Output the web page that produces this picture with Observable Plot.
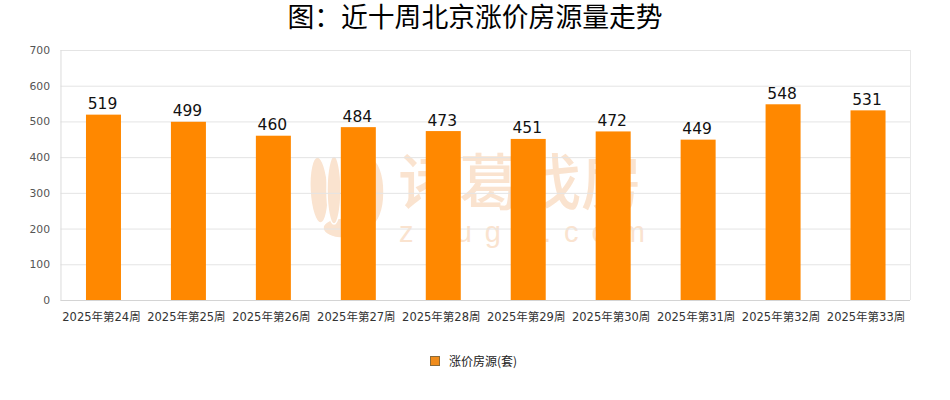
<!DOCTYPE html>
<html><head><meta charset="utf-8">
<script src="https://cdn.jsdelivr.net/npm/d3@7"></script>
<script src="https://cdn.jsdelivr.net/npm/@observablehq/plot@0.6"></script>
<style>
html,body{margin:0;padding:0;background:#fff}
#wrap{position:relative;width:950px;height:400px;overflow:hidden;font-family:"DejaVu Sans","Noto Sans CJK SC",sans-serif}
#title{position:relative;z-index:2;height:42px;line-height:35px;text-align:center;font-size:26.8px;color:#000;font-family:"DejaVu Sans","Noto Sans CJK SC",sans-serif;white-space:nowrap}
#mark{position:absolute;left:0;top:0;width:950px;height:400px;z-index:0;color:#fae3cf}
#mark .cn{position:absolute;left:398px;top:142px;font:500 61px/84px "Liberation Sans","Noto Sans CJK SC",sans-serif;white-space:nowrap}
#mark .en{position:absolute;left:399px;top:213px;font:400 29px/38px "Liberation Sans",sans-serif;letter-spacing:13px;white-space:nowrap}
#mark svg{position:absolute;left:305px;top:150px}
#chart{position:relative;z-index:1}
#chart svg{background:transparent}
#legend{position:absolute;z-index:2;left:430px;top:354px;display:flex;align-items:center;font-size:12px;line-height:14px;color:#222;font-family:"Noto Sans CJK SC",sans-serif}
#legend i{display:block;width:8px;height:8px;background:#f08c1c;border:.5px solid #8a6a3a;margin-right:9px}
</style></head><body>
<div id="wrap">
  <div id="mark">
    <svg width="85" height="95" viewBox="0 0 85 95" fill="#fae3cf" stroke="#fff" stroke-width="1.5">
      <ellipse cx="38" cy="78" rx="20" ry="10"/>
      <ellipse cx="14" cy="40" rx="9" ry="33" transform="rotate(-3 14 40)"/>
      <ellipse cx="29" cy="40" rx="7" ry="34"/>
      <ellipse cx="45" cy="42" rx="9" ry="34"/>
      <ellipse cx="66" cy="42" rx="13" ry="33"/>
    </svg>
    <div class="cn">诸葛找房</div>
    <div class="en">zhuge.com</div>
  </div>
  <div id="title">图：近十周北京涨价房源量走势</div>
  <div id="chart"></div>
  <div id="legend"><i></i><span>涨价房源(套)</span></div>
</div>
<script>
const weeks = ["2025年第24周","2025年第25周","2025年第26周","2025年第27周","2025年第28周","2025年第29周","2025年第30周","2025年第31周","2025年第32周","2025年第33周"];
const counts = [519,499,460,484,473,451,472,449,548,531];
const yTicks = [0,100,200,300,400,500,600,700];
const rows = weeks.map((week,i)=>({week,count:counts[i]}));
const plot = Plot.plot({
  width:950,height:296,
  marginTop:8,marginBottom:38,marginLeft:60.5,marginRight:40,
  style:{background:"transparent",fontFamily:'"DejaVu Sans","Noto Sans CJK SC",sans-serif',overflow:"visible"},
  x:{domain:weeks,paddingInner:0.588,paddingOuter:0.294,align:0.5,round:false,label:null,tickSize:0},
  y:{domain:[0,700],label:null},
  marks:[
    Plot.ruleY(yTicks,{stroke:"#e4e4e4",strokeWidth:1}),
    Plot.ruleX([weeks[0]],{stroke:"#dcdcdc",dx:-42.5}),
    Plot.ruleX([weeks[9]],{stroke:"#e8e8e8",dx:42.5}),
    Plot.ruleY([0],{stroke:"#d4d4d4"}),
    Plot.barY(rows,{x:"week",y:"count",fill:"#ff8800",dx:0.5}),
    Plot.text(rows,{x:"week",y:"count",text:d=>String(d.count),dx:-1,dy:-11,fontSize:15.5,fill:"#111"}),
    Plot.axisY({ticks:yTicks,tickSize:0,tickPadding:11,fontSize:10.8,color:"#555",label:null,marginLeft:60.5}),
    Plot.axisX({tickSize:0,tickPadding:12,fontSize:11.5,color:"#333",label:null,dx:-2})
  ]
});
document.getElementById("chart").appendChild(plot);
</script>
</body></html>
